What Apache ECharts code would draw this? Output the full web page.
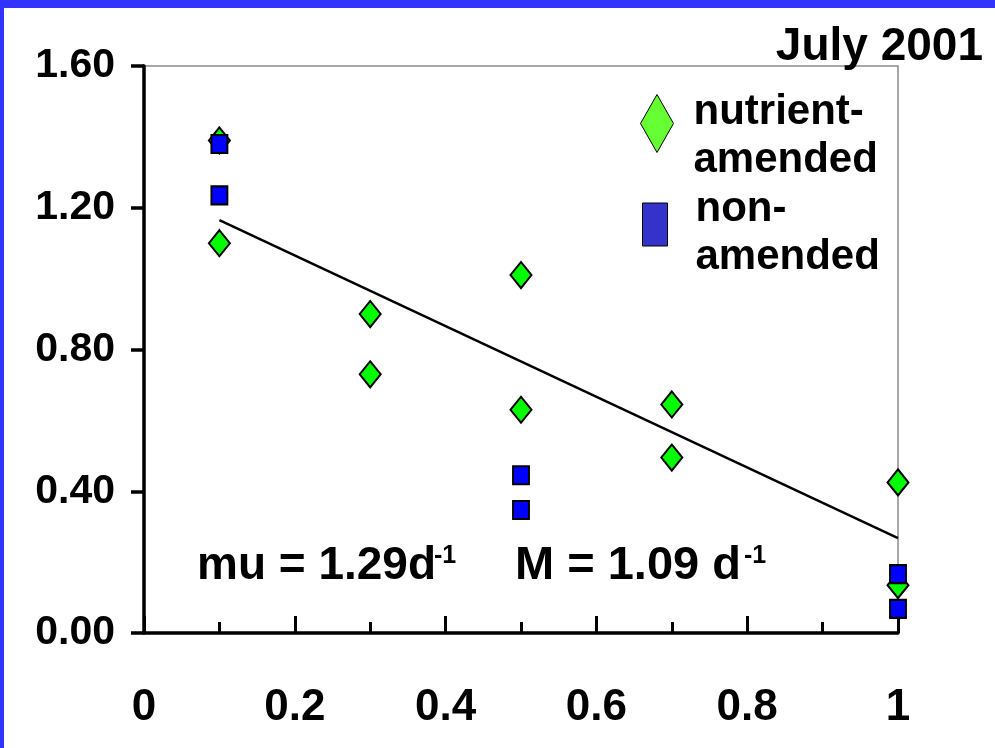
<!DOCTYPE html>
<html><head><meta charset="utf-8">
<script src="https://cdn.jsdelivr.net/npm/echarts@6/dist/echarts.min.js"></script>
<style>html,body{margin:0;padding:0;background:#fff}#c{width:995px;height:748px}</style>
</head><body><div id="c"></div>
<script>
const nutrientX = [0.1, 0.1, 0.3, 0.3, 0.5, 0.5, 0.7, 0.7, 1, 1];
const nutrientY = [1.39, 1.10, 0.90, 0.73, 1.01, 0.63, 0.645, 0.495, 0.425, 0.135];
const nonX = [0.1, 0.1, 0.5, 0.5, 1, 1];
const nonY = [1.38, 1.235, 0.445, 0.347, 0.166, 0.068];
const trendX = [0.1, 1];
const trendY = [1.165, 0.268];
const xTickLabels = ['0', '0.2', '0.4', '0.6', '0.8', '1'];
const yTickLabels = ['0.00', '0.40', '0.80', '1.20', '1.60'];
const seriesNames = ['nutrient-amended', 'non-amended'];

const sans = '"Liberation Sans", Arial, Helvetica, sans-serif';
const legendFmt = n => '{s| }\n' + n.replace('-', '-\n').split('\n').map(t => '{b|' + t + '}').join('\n');
const legendText = (spacer, padLeft) => ({
  color: '#000', padding: [0, 0, 0, padLeft],
  rich: {
    s: { fontSize: 2, lineHeight: spacer },
    b: { fontFamily: sans, fontWeight: 'bold', fontSize: 42, lineHeight: 48, color: '#000' }
  }
});

const chart = echarts.init(document.getElementById('c'));
chart.setOption({
  animation: false,
  backgroundColor: '#ffffff',
  grid: { left: 144, right: 97, top: 66, bottom: 115, show: true, borderColor: '#8c8c8c', borderWidth: 1.5, backgroundColor: 'transparent' },
  xAxis: {
    type: 'value', min: 0, max: 1, interval: 0.2,
    axisLine: { show: true, lineStyle: { color: '#000', width: 3.5 } },
    axisTick: { show: true, inside: true, length: 17, lineStyle: { color: '#000', width: 3 } },
    minorTick: { show: true, splitNumber: 2, length: 11, lineStyle: { color: '#000', width: 3 } },
    splitLine: { show: false },
    axisLabel: {
      margin: 53, color: '#000', fontFamily: sans, fontWeight: 'bold', fontSize: 44,
      formatter: v => xTickLabels[Math.round(v / 0.2)]
    }
  },
  yAxis: {
    type: 'value', min: 0, max: 1.6, interval: 0.4,
    axisLine: { show: true, lineStyle: { color: '#000', width: 3.5 } },
    axisTick: { show: true, inside: false, length: 13, lineStyle: { color: '#000', width: 3.5 } },
    splitLine: { show: false },
    axisLabel: {
      margin: 29, color: '#000', fontFamily: sans, fontWeight: 'bold', fontSize: 41,
      formatter: v => yTickLabels[Math.round(v / 0.4)]
    }
  },
  legend: [
    {
      data: [{ name: seriesNames[0], icon: 'diamond', itemStyle: { color: '#66FF33', borderColor: '#000', borderWidth: 1 } }],
      left: 640, top: 74.5, padding: 0, itemWidth: 33, itemHeight: 58, selectedMode: false,
      formatter: legendFmt, textStyle: legendText(25, 15)
    },
    {
      data: [{ name: seriesNames[1], icon: 'rect', itemStyle: { color: '#3333CC', borderColor: '#000', borderWidth: 1 } }],
      left: 642, top: 175.5, padding: 0, itemWidth: 25, itemHeight: 43, selectedMode: false,
      formatter: legendFmt, textStyle: legendText(18, 23)
    }
  ],
  graphic: [
    { type: 'rect', shape: { x: 0, y: 0, width: 995, height: 8 }, style: { fill: '#3333FF' }, z: 100 },
    { type: 'rect', shape: { x: 0, y: 0, width: 4, height: 748 }, style: { fill: '#3333FF' }, z: 100 },
    { type: 'text', x: 983, y: 47, style: { text: 'July 2001', fill: '#000', font: 'bold 46px ' + sans, align: 'right', verticalAlign: 'middle' }, z: 100 },
    { type: 'text', x: 197, y: 566, style: { text: 'mu = 1.29d', fill: '#000', font: 'bold 46px ' + sans, align: 'left', verticalAlign: 'middle' }, z: 100 },
    { type: 'text', x: 434, y: 556, style: { text: '-1', fill: '#000', font: 'bold 25px ' + sans, align: 'left', verticalAlign: 'middle' }, z: 100 },
    { type: 'text', x: 515, y: 566, style: { text: 'M = 1.09 d', fill: '#000', font: 'bold 47px ' + sans, align: 'left', verticalAlign: 'middle' }, z: 100 },
    { type: 'text', x: 744, y: 556, style: { text: '-1', fill: '#000', font: 'bold 25px ' + sans, align: 'left', verticalAlign: 'middle' }, z: 100 }
  ],
  series: [
    {
      name: 'trend', type: 'line', data: trendX.map((x, i) => [x, trendY[i]]),
      showSymbol: false, symbol: 'none', lineStyle: { color: '#000', width: 2.5 }, z: 2, silent: true
    },
    {
      name: seriesNames[0], type: 'scatter', symbol: 'diamond', symbolSize: [21, 26],
      data: nutrientX.map((x, i) => [x, nutrientY[i]]),
      itemStyle: { color: '#00FF00', borderColor: '#000', borderWidth: 2, opacity: 1 }, z: 3
    },
    {
      name: seriesNames[1], type: 'scatter', symbol: 'rect', symbolSize: [16, 18],
      data: nonX.map((x, i) => [x, nonY[i]]),
      itemStyle: { color: '#0000FF', borderColor: '#000', borderWidth: 2, opacity: 1 }, z: 4
    }
  ]
});
</script>
</body></html>
